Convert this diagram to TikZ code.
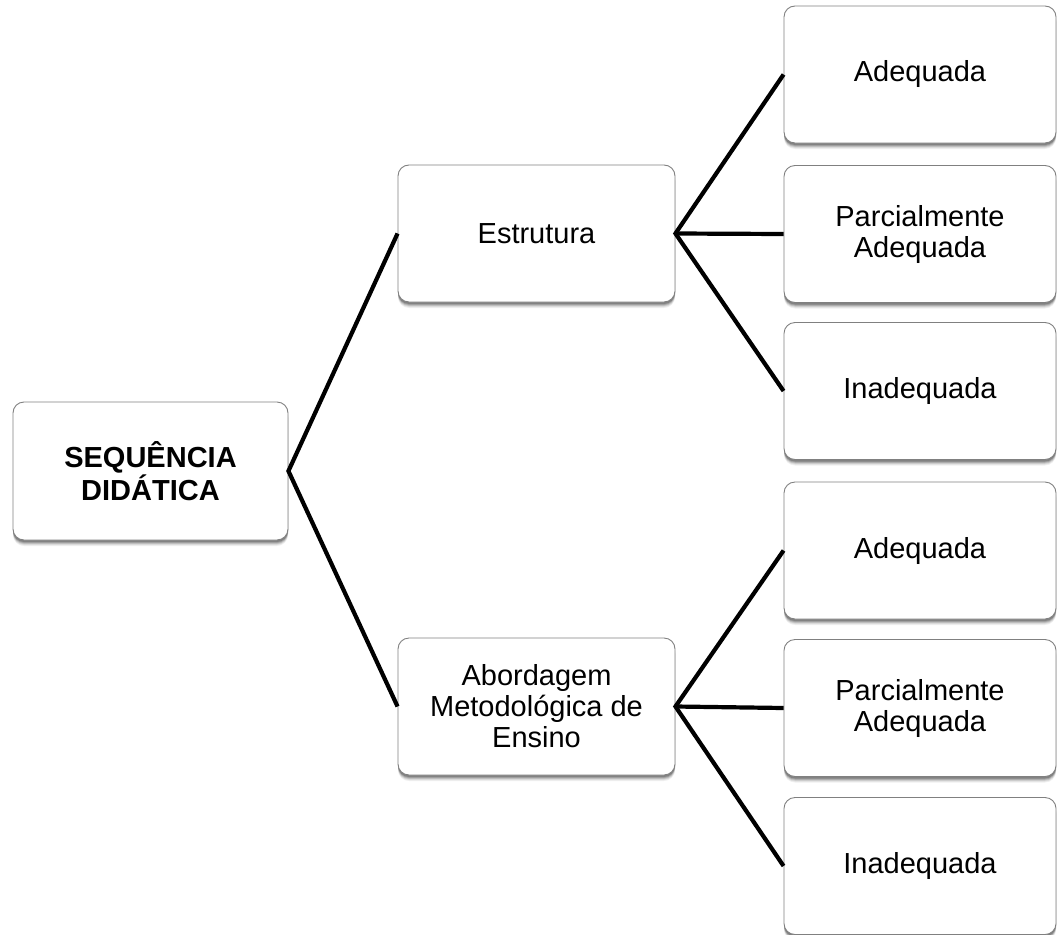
\documentclass[tikz,border=0pt]{standalone}
\usepackage{fontspec}
\setmainfont{Liberation Sans}
\usetikzlibrary{shadows}
\begin{document}
\begin{tikzpicture}[x=1pt,y=-1pt,
  softshadow/.style={
    general shadow={shadow yshift=-6pt, opacity=0.06, fill=black},
    general shadow={shadow yshift=-5pt, opacity=0.08, fill=black},
    general shadow={shadow yshift=-4pt, opacity=0.12, fill=black},
    general shadow={shadow yshift=-3pt, opacity=0.16, fill=black},
    general shadow={shadow yshift=-2pt, opacity=0.2, fill=black}},
  box/.style={draw=black!50, line width=0.9pt, fill=white, rounded corners=11pt,
    align=center, inner sep=0pt, font=\fontsize{29}{31}\selectfont, softshadow},
  rootbox/.style={box, minimum width=275pt, minimum height=138pt, font=\fontsize{29}{31}\selectfont\bfseries},
  midbox/.style={box, minimum width=277pt, minimum height=137pt},
  leafbox/.style={box, minimum width=272pt, minimum height=137pt},
  conn/.style={line width=4.2pt, black}]
\useasboundingbox (0,0) rectangle (1057,934);
\node[rootbox] (root) at (150.5,471) {SEQUÊNCIA\\DIDÁTICA};
\node[midbox] (est) at (536.5,233.5) {Estrutura};
\node[midbox] (abo) at (536.5,706.5) {Abordagem\\Metodológica de\\Ensino};
\node[leafbox] (l1) at (920,74.5) {Adequada};
\node[leafbox] (l2) at (920,234) {Parcialmente\\Adequada};
\node[leafbox] (l3) at (920,391) {Inadequada};
\node[leafbox] (l4) at (920,550.5) {Adequada};
\node[leafbox] (l5) at (920,708) {Parcialmente\\Adequada};
\node[leafbox] (l6) at (920,866) {Inadequada};
\draw[conn] (est.west) -- (root.east) -- (abo.west);
\draw[conn] (l1.west) -- (est.east) -- (l3.west);
\draw[conn] (est.east) -- (l2.west);
\draw[conn] (l4.west) -- (abo.east) -- (l6.west);
\draw[conn] (abo.east) -- (l5.west);
\end{tikzpicture}
\end{document}
